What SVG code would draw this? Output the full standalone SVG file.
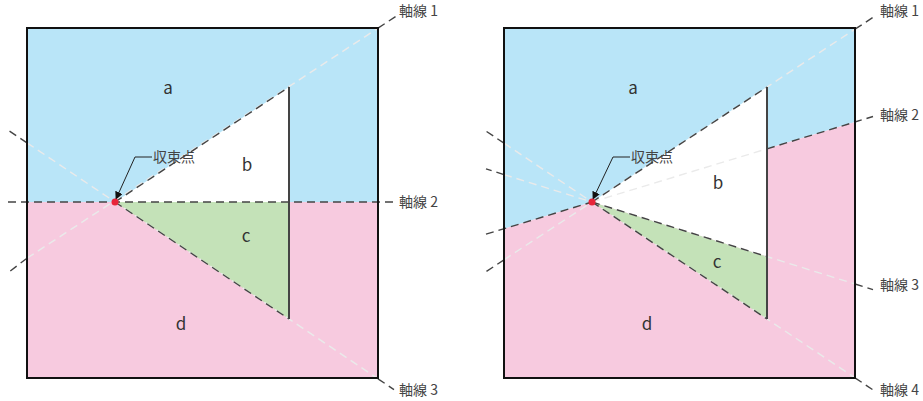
<svg xmlns="http://www.w3.org/2000/svg" width="923" height="401" viewBox="0 0 923 401">
<defs>
<style>
.blue{fill:#b9e5f8}
.pink{fill:#f7cadf}
.green{fill:#c4e2b8}
.white{fill:#ffffff}
.light{stroke:#eaeaea;stroke-width:1.4;stroke-dasharray:8 5;fill:none}
.dark{stroke:#444444;stroke-width:1.4;stroke-dasharray:8 5;fill:none}
.edge{stroke:#444444;stroke-width:2;fill:none}
.border{stroke:#111111;stroke-width:2;fill:none}
.lead{stroke:#222222;stroke-width:1;fill:none}
.dot{fill:#e8253a}
.lbl{font-family:"Noto Sans CJK JP","Noto Sans",sans-serif;font-size:17px;fill:#333333;text-anchor:middle}
.ax{font-family:"Noto Sans CJK JP","Noto Sans",sans-serif;font-size:14px;fill:#444444}
</style>
<marker id="arr" viewBox="0 0 10 10" refX="9" refY="5" markerWidth="8" markerHeight="8" orient="auto" markerUnits="userSpaceOnUse">
<path d="M0,0 L10,5 L0,10 z" fill="#111111"/>
</marker>
</defs>

<g id="left-panel">
<g id="left-regions">
<rect id="left-a" class="blue" x="27" y="28" width="351" height="174"/>
<rect id="left-d" class="pink" x="27" y="202" width="351" height="176"/>
<polygon id="left-b" class="white" points="115,202 289,87 289,202"/>
<polygon id="left-c" class="green" points="115,202 289,202 289,319"/>
</g>
<g id="left-connectors">
<line class="light" x1="27" y1="258.2" x2="378" y2="28.2"/>
<line class="light" x1="27" y1="142.8" x2="378" y2="378.8"/>
<line class="dark" x1="8" y1="202" x2="396" y2="202"/>
<line class="dark" x1="115" y1="202" x2="289" y2="87"/>
<line class="dark" x1="115" y1="202" x2="289" y2="319"/>
<line class="dark" x1="378" y1="28.2" x2="396" y2="16.3"/>
<line class="dark" x1="378" y1="378.8" x2="394" y2="389.6"/>
<line class="dark" x1="27" y1="258.2" x2="8" y2="272.7"/>
<line class="dark" x1="27" y1="142.8" x2="8" y2="130.1"/>
<line class="edge" x1="289" y1="87" x2="289" y2="319"/>
<polyline class="lead" points="152,157 135,157 116,199" marker-end="url(#arr)"/>
</g>
<rect class="border" x="27" y="28" width="351" height="350"/>
<circle class="dot" cx="115" cy="202" r="3.5"/>
<g id="left-labels">
<text class="lbl" x="168" y="94">a</text>
<text class="lbl" x="247" y="171">b</text>
<text class="lbl" x="246" y="242">c</text>
<text class="lbl" x="181" y="330">d</text>
<text class="ax" x="153" y="162">収束点</text>
<text class="ax" x="399" y="16">軸線 1</text>
<text class="ax" x="399" y="207">軸線 2</text>
<text class="ax" x="399" y="395">軸線 3</text>
</g>
</g>

<g id="right-panel">
<g id="right-regions">
<polygon id="right-a" class="blue" points="504,28 855,28 855,122 504,228.8"/>
<polygon id="right-d" class="pink" points="504,228.8 855,122 855,378 504,378"/>
<polygon id="right-b" class="white" points="592,202 767,87 767,256.6"/>
<polygon id="right-c" class="green" points="592,202 767,256.6 767,319"/>
</g>
<g id="right-connectors">
<line class="light" x1="504" y1="259.8" x2="855" y2="29.2"/>
<line class="light" x1="592" y1="202" x2="767" y2="148.8"/>
<line class="light" x1="504" y1="174.6" x2="855" y2="284"/>
<line class="light" x1="504" y1="143.2" x2="855" y2="377.8"/>
<line class="dark" x1="486" y1="234.2" x2="592" y2="202"/>
<line class="dark" x1="767" y1="148.8" x2="873" y2="116.5"/>
<line class="dark" x1="592" y1="202" x2="767" y2="87"/>
<line class="dark" x1="592" y1="202" x2="767" y2="256.6"/>
<line class="dark" x1="592" y1="202" x2="767" y2="319"/>
<line class="dark" x1="855" y1="29.2" x2="873" y2="17.4"/>
<line class="dark" x1="855" y1="284" x2="873" y2="289.6"/>
<line class="dark" x1="855" y1="377.8" x2="873" y2="389.9"/>
<line class="dark" x1="504" y1="259.8" x2="486" y2="271.7"/>
<line class="dark" x1="504" y1="174.6" x2="486" y2="168.9"/>
<line class="dark" x1="504" y1="143.2" x2="486" y2="131.1"/>
<line class="edge" x1="767" y1="87" x2="767" y2="319"/>
<polyline class="lead" points="630,157 613,157 593,199" marker-end="url(#arr)"/>
</g>
<rect class="border" x="504" y="28" width="351" height="350"/>
<circle class="dot" cx="592" cy="202" r="3.5"/>
<g id="right-labels">
<text class="lbl" x="633" y="94">a</text>
<text class="lbl" x="718" y="189">b</text>
<text class="lbl" x="717" y="268">c</text>
<text class="lbl" x="647" y="330">d</text>
<text class="ax" x="631" y="162">収束点</text>
<text class="ax" x="880" y="16">軸線 1</text>
<text class="ax" x="880" y="120">軸線 2</text>
<text class="ax" x="880" y="290">軸線 3</text>
<text class="ax" x="880" y="395">軸線 4</text>
</g>
</g>
</svg>
